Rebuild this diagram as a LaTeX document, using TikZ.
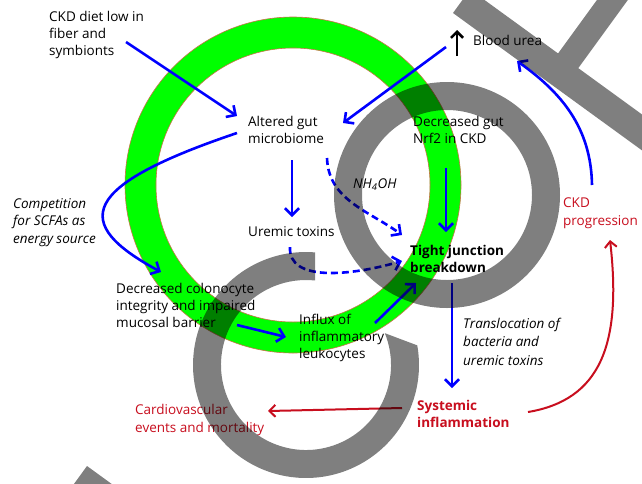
\documentclass[tikz,border=0pt]{standalone}
\usepackage{fontspec}
\setmainfont{Open Sans}
\usetikzlibrary{arrows.meta,calc}
\definecolor{ringgreen}{RGB}{0,255,0}
\definecolor{ringedge}{RGB}{200,115,70}
\definecolor{flowblue}{RGB}{0,0,255}
\definecolor{flowred}{RGB}{200,14,30}
\begin{document}
\begin{tikzpicture}[x=1pt,y=1pt,
  txt/.style={anchor=base west, inner sep=0pt, align=left,
              font=\fontsize{13.5}{17}\selectfont},
  redtxt/.style={txt, text=flowred},
  flow/.style={draw=flowblue, line width=2.6pt,
               -{Straight Barb[length=7pt,width=14pt]}},
  dflow/.style={flow, dash pattern=on 7pt off 4pt},
  rflow/.style={draw=flowred, line width=2pt,
                -{Straight Barb[length=6pt,width=12pt]}},
  kflow/.style={draw=black, line width=2.6pt,
                -{Straight Barb[length=6pt,width=12pt]}},
  shade/.style={fill=black, fill opacity=0.5}
]
% canvas
\fill[white] (0,0) rectangle (642,-483);
\useasboundingbox (0,0) rectangle (642,-483);

% green ring
\fill[ringgreen, even odd rule, draw=ringedge, line width=0.6pt]
  (293,-185) circle[radius=168] (293,-185) circle[radius=137];

% labels (each placed by the baseline of its last line)
\node[txt] (diet) at (49,-55) {CKD diet low in\\fiber and\\symbionts};
\node[txt] (gut) at (248,-143) {Altered gut\\microbiome};
\node[txt] (uremic) at (248,-236) {Uremic toxins};
\node[txt] (nrf) at (413,-143) {Decreased gut\\Nrf2 in CKD};
\node[txt] (urea) at (473,-45) {Blood urea};
\node[txt] (nh) at (353,-188) {\textit{NH\textsubscript{4}OH}};
\node[txt, font=\fontsize{13.5}{17}\selectfont\bfseries] (tj) at (410,-272) {Tight junction\\breakdown};
\node[redtxt, font=\fontsize{13.5}{18}\selectfont] (ckdp) at (563,-225) {CKD\\progression};
\node[txt, font=\fontsize{13.5}{17.5}\selectfont\itshape] (comp) at (13,-243) {Competition\\for SCFAs as\\energy source};
\node[txt] (colon) at (116,-327) {Decreased colonocyte\\integrity and impaired\\mucosal barrier};
\node[txt] (influx) at (299,-358) {Influx of\\inflammatory\\leukocytes};
\node[txt, font=\fontsize{13.5}{18.5}\selectfont\itshape] (transl) at (463,-365) {Translocation of\\bacteria and\\uremic toxins};
\node[redtxt, font=\fontsize{13.5}{17}\selectfont\bfseries] (sys) at (417,-427) {Systemic\\inflammation};
\node[redtxt, font=\fontsize{13.5}{18}\selectfont] (cardio) at (135,-432) {Cardiovascular\\events and mortality};

% connector ends
\coordinate (dietOut) at (126,-42);
\coordinate (gutIn) at (237,-116);
\coordinate (ureaOut) at (446,-47);
\coordinate (gutInB) at (343,-123);
\coordinate (gutDown) at (292,-160);
\coordinate (uremicIn) at (292,-217);
\coordinate (gutDash) at (327,-158);
\coordinate (tjInA) at (402,-235);
\coordinate (uremicOut) at (290,-247);
\coordinate (tjInB) at (402,-261);
\coordinate (nrfOut) at (446,-168);
\coordinate (tjInC) at (446,-232);
\coordinate (gutLeft) at (237,-133);
\coordinate (colonIn) at (161,-272);
\coordinate (colonOut) at (237,-325);
\coordinate (influxIn) at (286,-337);
\coordinate (influxOut) at (375,-323);
\coordinate (tjInD) at (416,-283);
\coordinate (tjOut) at (452,-283);
\coordinate (sysIn) at (452,-388);
\coordinate (sysLeft) at (402,-408);
\coordinate (cardioIn) at (268,-411);
\coordinate (sysRight) at (528,-412);
\coordinate (ckdpIn) at (610,-240);
\coordinate (ckdpOut) at (592,-185);
\coordinate (ureaIn) at (517,-61);
\coordinate (ureaUpA) at (457,-56);
\coordinate (ureaUpB) at (457,-30);

% connectors
\draw[flow] (dietOut) -- (gutIn);
\draw[flow] (ureaOut) -- (gutInB);
\draw[flow] (gutDown) -- (uremicIn);
\draw[dflow] (gutDash) to[out=-88, in=144] (tjInA);
\draw[dflow] (uremicOut) .. controls (288,-282) and (350,-276) .. (tjInB);
\draw[flow] (nrfOut) -- (tjInC);
\draw[flow] (gutLeft) .. controls (80,-186) and (70,-223) .. (colonIn);
\draw[flow] (colonOut) -- (influxIn);
\draw[flow] (influxOut) -- (tjInD);
\draw[flow] (tjOut) -- (sysIn);
\draw[rflow] (sysLeft) -- (cardioIn);
\draw[rflow] (sysRight) .. controls (600,-400) and (622,-345) .. (ckdpIn);
\draw[flow] (ckdpOut) .. controls (591,-128) and (562,-93) .. (ureaIn);
\draw[kflow] (ureaUpA) -- (ureaUpB);

% translucent overlay: ring, open ring and diagonal bars
\fill[shade, even odd rule]
  (447,-195) circle[radius=113] (447,-195) circle[radius=85];
\fill[shade]
  (306,-365) ++(85.4:113) arc[start angle=85.4, end angle=370, radius=113]
  -- ($(306,-365)+(22:85)$) arc[start angle=382, end angle=83.9, radius=85] -- cycle;
\fill[shade, nonzero rule]
  (453,-13) -- (470.1,10.5) -- (712.8,-165.9) -- (695.7,-189.4) -- cycle
  (614.6,24.3) -- (634.8,9.6) -- (569.5,-80.2) -- (549.3,-65.5) -- cycle;
\fill[shade]
  (87,-466) -- (135.5,-501.3) -- (112,-533.7) -- (63.5,-498.4) -- cycle;
\end{tikzpicture}
\end{document}
